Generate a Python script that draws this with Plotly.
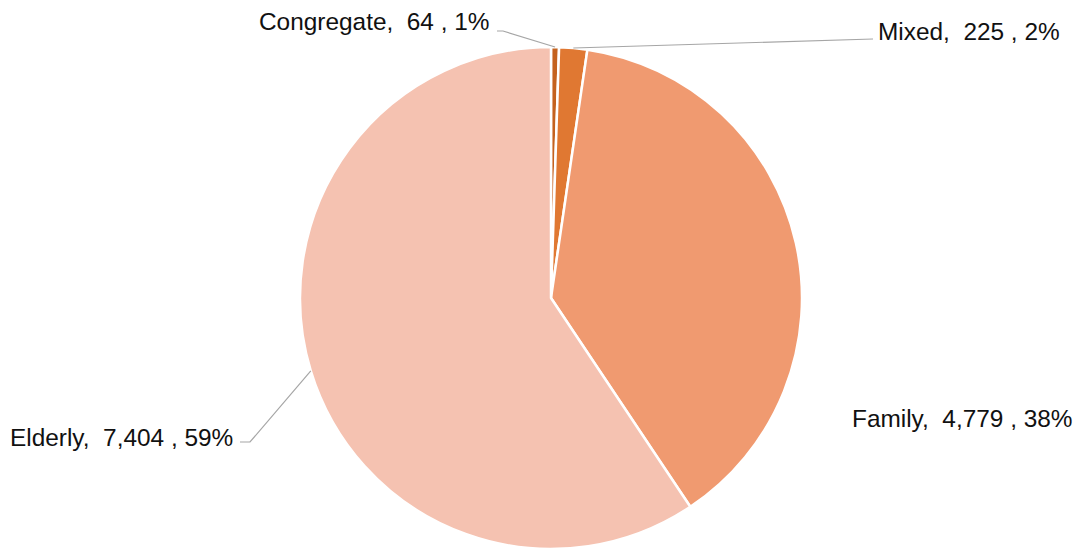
import math
import plotly.graph_objects as go

categories = ["Congregate", "Mixed", "Family", "Elderly"]
values = [64, 225, 4779, 7404]
percent_labels = ["1%", "2%", "38%", "59%"]
colors = ["#C4621F", "#E07832", "#F09A70", "#F5C2B1"]

W, H = 1081, 552
cx, cy, r = 551, 298, 251  # pie centre / radius in pixels

# label placement (pixel coords): (x, y, xanchor, leader (x0, x1, y) or None)
label_pos = {
    "Congregate": (492, 21, "right", (497, 503, 31)),
    "Mixed": (876, 31, "left", (873, 873, 39)),
    "Family": (850, 418, "left", None),
    "Elderly": (8, 437, "left", (240, 250, 442)),
}

def px(x):
    return x / W

def py(y):
    return 1 - y / H

fig = go.Figure(go.Pie(
    labels=categories,
    values=values,
    sort=False,
    direction="clockwise",
    rotation=0,
    textinfo="none",
    marker=dict(colors=colors, line=dict(color="white", width=2.5)),
    domain=dict(x=[px(cx - r), px(cx + r)], y=[py(cy + r), py(cy - r)]),
    showlegend=False,
))

total = sum(values)
cum = 0
annotations = []
shapes = []
for cat, v, p in zip(categories, values, percent_labels):
    mid = (cum + v / 2) / total
    cum += v
    ang = 2 * math.pi * mid
    ex = cx + r * math.sin(ang)
    ey = cy - r * math.cos(ang)
    lx, ly, anchor, leader = label_pos[cat]
    text = f"{cat},\u00a0 {v:,} , {p}"
    annotations.append(dict(
        x=px(lx), y=py(ly), xref="paper", yref="paper",
        xanchor=anchor, yanchor="middle", text=text, showarrow=False,
        font=dict(family="Arial, Liberation Sans, sans-serif", size=24.4, color="#111111"),
    ))
    if leader:
        x0, x1, yl = leader
        pts = [(x0, yl), (x1, yl), (ex, ey)]
        path = "M " + " L ".join(f"{px(a)},{py(b)}" for a, b in pts)
        shapes.append(dict(type="path", path=path, xref="paper", yref="paper",
                           line=dict(color="#A6A6A6", width=1.2)))

fig.update_layout(
    width=W, height=H,
    margin=dict(l=0, r=0, t=0, b=0),
    paper_bgcolor="white", plot_bgcolor="white",
    annotations=annotations, shapes=shapes,
)

fig.write_html("out.html", config={"displayModeBar": False},
               post_script="document.body.style.margin='0';document.body.style.overflow='hidden';")
